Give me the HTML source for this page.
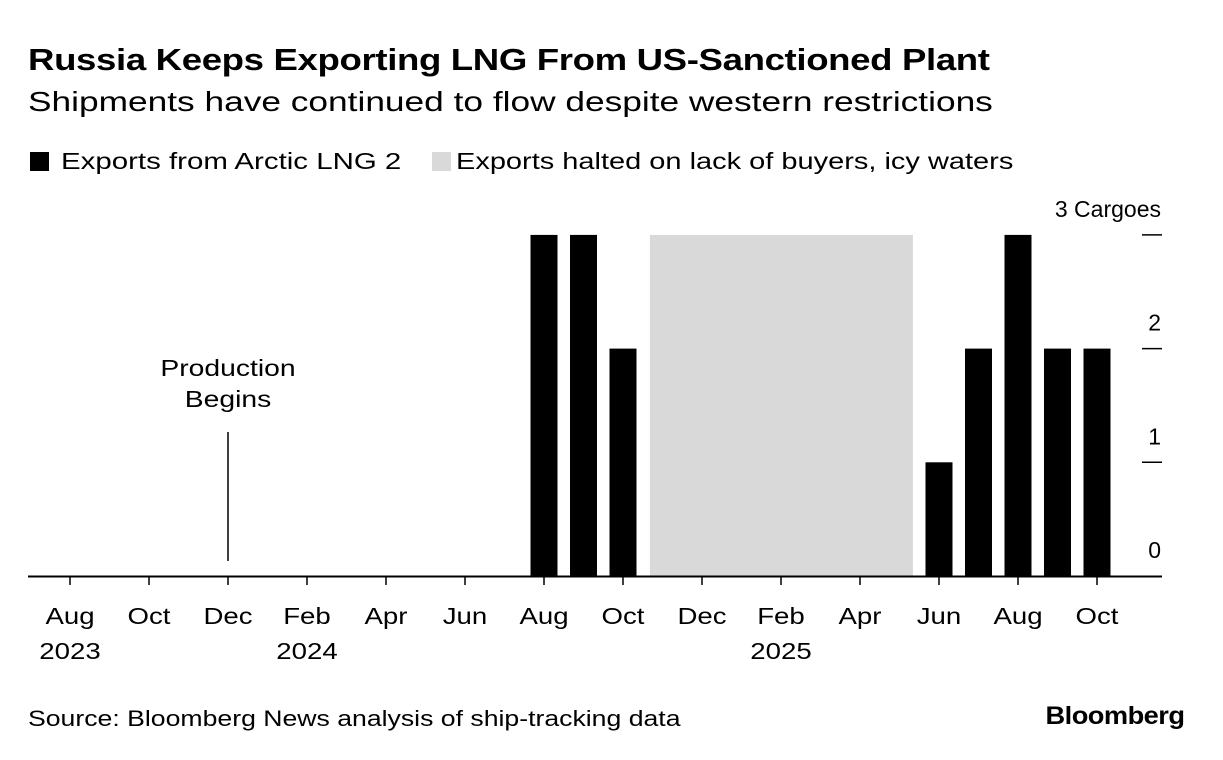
<!DOCTYPE html>
<html><head><meta charset="utf-8"><style>
body{margin:0;background:#fff;font-family:"Liberation Sans",Arial,sans-serif;color:#000}
.t{position:absolute;white-space:nowrap;transform-origin:0 50%}
</style></head><body>
<div style="position:relative;width:1223px;height:760px;overflow:hidden">
<div class="t" style="left:28px;top:42px;font-size:31px;font-weight:bold;letter-spacing:-0.3px;transform:scaleX(1.18)">Russia Keeps Exporting LNG From US-Sanctioned Plant</div>
<div class="t" style="left:28px;top:86px;font-size:28px;transform:scaleX(1.26)">Shipments have continued to flow despite western restrictions</div>
<div class="t" style="left:30px;top:148px;font-size:23px"><span style="display:inline-block;width:19px;height:19px;background:#000;vertical-align:-2px;margin-right:12px"></span><span style="display:inline-block;transform:scaleX(1.28);transform-origin:0 50%">Exports from Arctic LNG 2</span></div>
<div class="t" style="left:432px;top:148px;font-size:23px"><span style="display:inline-block;width:19px;height:19px;background:#d9d9d9;vertical-align:-2px;margin-right:5px"></span><span style="display:inline-block;transform:scaleX(1.26);transform-origin:0 50%">Exports halted on lack of buyers, icy waters</span></div>
<svg id="plot" width="1223" height="760" style="position:absolute;left:0;top:0"></svg>
<div class="t" style="left:28px;top:706px;font-size:22px;transform:scaleX(1.21)">Source: Bloomberg News analysis of ship-tracking data</div>
<div class="t" style="right:39px;top:702px;font-size:25px;font-weight:bold;letter-spacing:-0.5px;transform:scaleX(1.09);transform-origin:100% 50%">Bloomberg</div>
</div>
<script>
// month index 0 = Aug 2023
const barMonths=[12,13,14,22,23,24,25,26];
const barValues=[3,3,2,1,2,3,2,2];
const haltStart=14.68, haltEnd=21.34;
const tickMonths=[0,2,4,6,8,10,12,14,16,18,20,22,24,26];
const tickLabels=["Aug","Oct","Dec","Feb","Apr","Jun","Aug","Oct","Dec","Feb","Apr","Jun","Aug","Oct"];
const yearLabels=[[0,"2023"],[6,"2024"],[18,"2025"]];
const yTicks=[0,1,2,3];
const yTickLabels=["0","1","2","3 Cargoes"];
const annotationMonth=4;

const NS="http://www.w3.org/2000/svg",svg=document.getElementById('plot');
const x=m=>70+39.5*m, y=v=>576-113.7*v;
function mk(t,a){const e=document.createElementNS(NS,t);for(const k in a)e.setAttribute(k,a[k]);svg.appendChild(e);return e;}
function widen(t,f){const w=t.getComputedTextLength();t.setAttribute('textLength',w*f);t.setAttribute('lengthAdjust','spacingAndGlyphs');}
let e=mk('rect',{x:x(haltStart),y:y(3),width:x(haltEnd)-x(haltStart),height:y(0)-y(3),fill:'#d9d9d9'});


barMonths.forEach((m,i)=>{
 const b=mk('rect',{x:x(m)-13.5,y:y(barValues[i]),width:27,height:y(0)-y(barValues[i]),fill:'#000'});
 
 
});
e=mk('line',{x1:28,x2:1162,y1:y(0)+0.5,y2:y(0)+0.5,stroke:'#000','stroke-width':2});


tickMonths.forEach((m,i)=>{
 const l=mk('line',{x1:x(m),x2:x(m),y1:y(0),y2:y(0)+9,stroke:'#000','stroke-width':1.5});
 
 
 const t=mk('text',{x:x(m),y:624,'text-anchor':'middle','font-size':23});
 t.textContent=tickLabels[i];
 
 
 widen(t,1.2);
});
yearLabels.forEach(([m,s])=>{
 const t=mk('text',{x:x(m),y:659,'text-anchor':'middle','font-size':23});
 t.textContent=s;
 
 
 widen(t,1.2);
});
yTicks.forEach((v,i)=>{
 if(v>0){const l=mk('line',{x1:1142,x2:1162,y1:y(v),y2:y(v),stroke:'#000','stroke-width':1.5});
 
 }
 const t=mk('text',{x:1161,y:y(v)-18,'text-anchor':'end','font-size':23});
 t.textContent=yTickLabels[i];
 
 
});
e=mk('line',{x1:x(annotationMonth),x2:x(annotationMonth),y1:432,y2:561,stroke:'#000','stroke-width':1.5});


['Production','Begins'].forEach((s,i)=>{
 const t=mk('text',{x:x(annotationMonth),y:376+i*31,'text-anchor':'middle','font-size':23});
 t.textContent=s;
 
 
 widen(t,1.23);
});
</script>
</body></html>
